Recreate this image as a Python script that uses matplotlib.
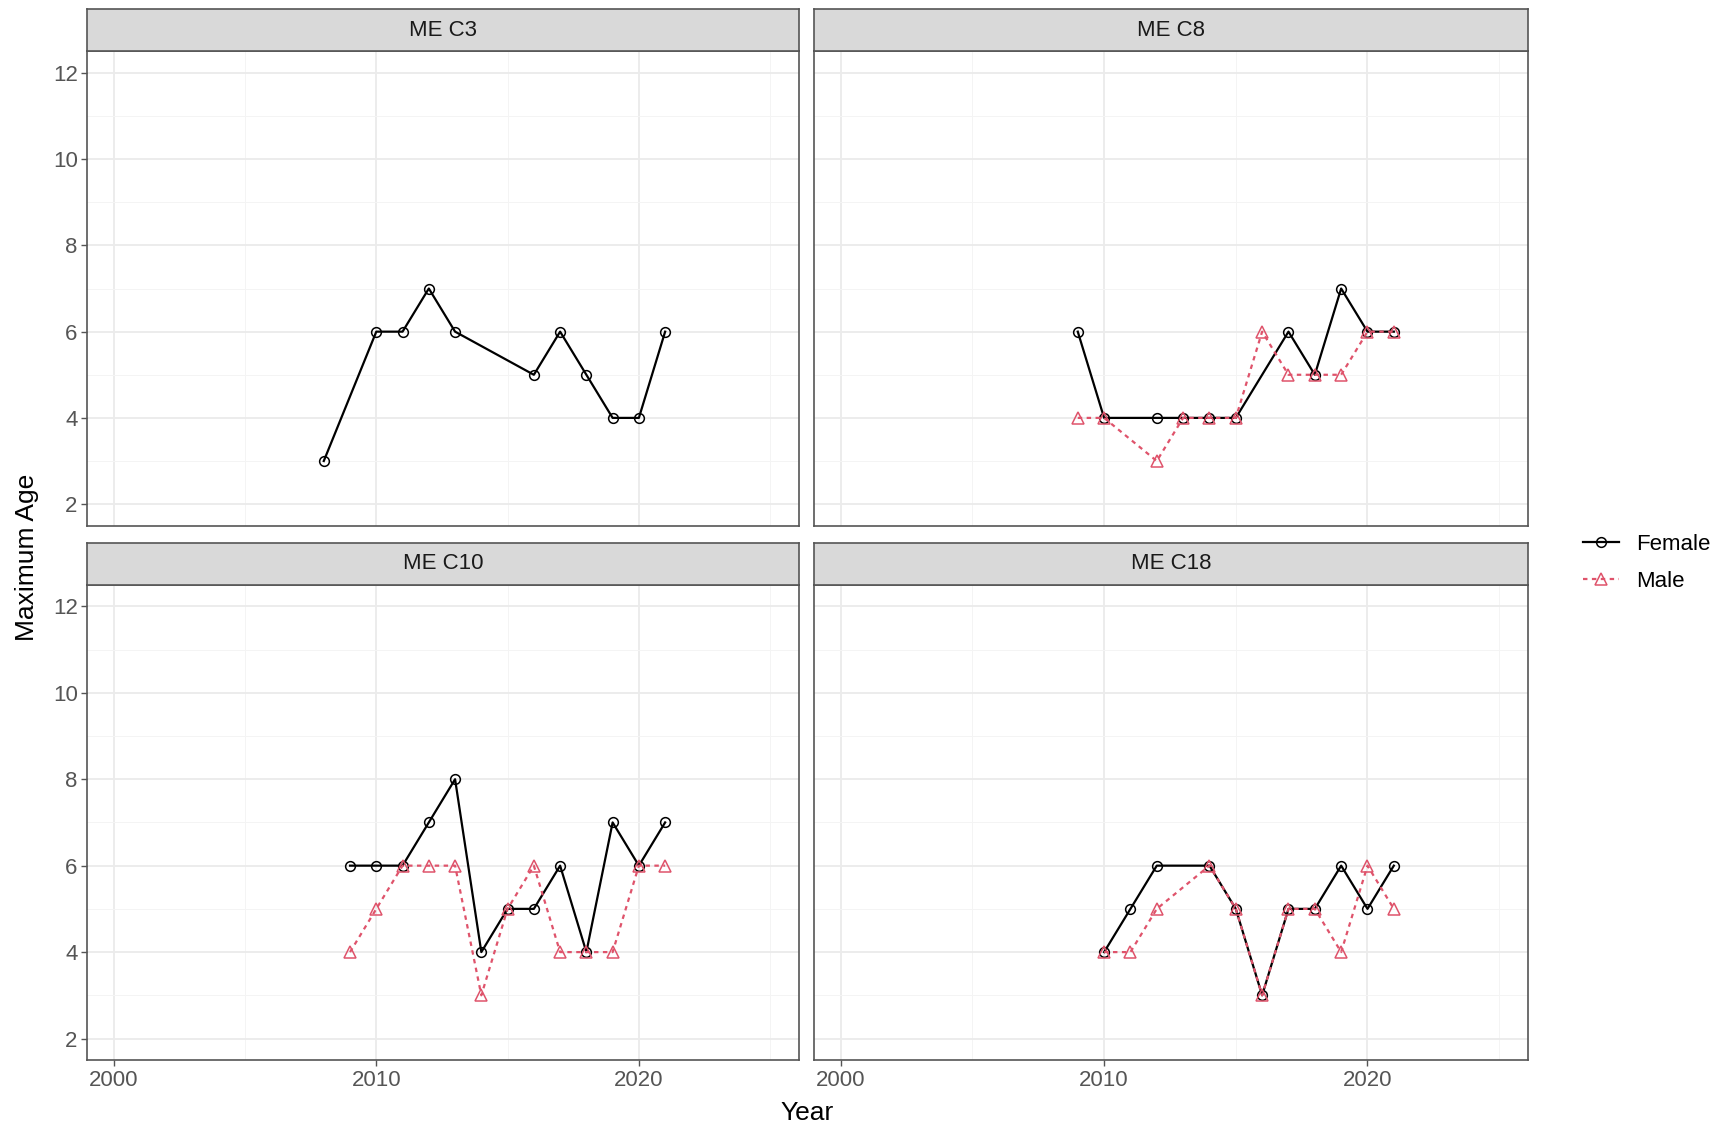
import numpy as np
import matplotlib
matplotlib.use("Agg")
import matplotlib.pyplot as plt
from matplotlib.lines import Line2D

plt.rcParams['font.family'] = ['Liberation Sans', 'DejaVu Sans']

# data
panels = ["ME C3", "ME C8", "ME C10", "ME C18"]

c3_f_years = [2008, 2010, 2011, 2012, 2013, 2016, 2017, 2018, 2019, 2020, 2021]
c3_f_age = [3, 6, 6, 7, 6, 5, 6, 5, 4, 4, 6]

c8_f_years = [2009, 2010, 2012, 2013, 2014, 2015, 2017, 2018, 2019, 2020, 2021]
c8_f_age = [6, 4, 4, 4, 4, 4, 6, 5, 7, 6, 6]
c8_m_years = [2009, 2010, 2012, 2013, 2014, 2015, 2016, 2017, 2018, 2019, 2020, 2021]
c8_m_age = [4, 4, 3, 4, 4, 4, 6, 5, 5, 5, 6, 6]

c10_f_years = [2009, 2010, 2011, 2012, 2013, 2014, 2015, 2016, 2017, 2018, 2019, 2020, 2021]
c10_f_age = [6, 6, 6, 7, 8, 4, 5, 5, 6, 4, 7, 6, 7]
c10_m_years = [2009, 2010, 2011, 2012, 2013, 2014, 2015, 2016, 2017, 2018, 2019, 2020, 2021]
c10_m_age = [4, 5, 6, 6, 6, 3, 5, 6, 4, 4, 4, 6, 6]

c18_f_years = [2010, 2011, 2012, 2014, 2015, 2016, 2017, 2018, 2019, 2020, 2021]
c18_f_age = [4, 5, 6, 6, 5, 3, 5, 5, 6, 5, 6]
c18_m_years = [2010, 2011, 2012, 2014, 2015, 2016, 2017, 2018, 2019, 2020, 2021]
c18_m_age = [4, 4, 5, 6, 5, 3, 5, 5, 4, 6, 5]

female = [(c3_f_years, c3_f_age), (c8_f_years, c8_f_age),
          (c10_f_years, c10_f_age), (c18_f_years, c18_f_age)]
male = [None, (c8_m_years, c8_m_age),
        (c10_m_years, c10_m_age), (c18_m_years, c18_m_age)]

x_ticks = [2000, 2010, 2020]
y_ticks = [2, 4, 6, 8, 10, 12]

F_COL = "black"
M_COL = "#DF536B"

W, H = 1568.0, 1033.0  # layout measured on the shrunk picture
fig = plt.figure(figsize=(17.14, 11.29), dpi=100)

cols = [(80, 731), (745, 1398)]
rows = [(8, 47, 481), (497, 535, 970)]  # strip top, panel top, panel bottom

for i, name in enumerate(panels):
    r, c = divmod(i, 2)
    x0, x1 = cols[c]
    st, pt, pb = rows[r]
    ax = fig.add_axes([x0 / W, 1 - pb / H, (x1 - x0) / W, (pb - pt) / H])
    ax.set_xlim(1999.0, 2026.1)
    ax.set_ylim(1.5, 12.5)
    ax.set_xticks(x_ticks)
    ax.set_yticks(y_ticks)
    ax.set_xticks([2005, 2015, 2025], minor=True)
    ax.set_yticks([3, 5, 7, 9, 11], minor=True)
    ax.grid(which="major", color="#EBEBEB", lw=1.3)
    ax.grid(which="minor", color="#F4F4F4", lw=0.7)
    ax.set_axisbelow(True)
    for sp in ax.spines.values():
        sp.set_color("#555555")
        sp.set_linewidth(1.2)
    ax.tick_params(which="major", length=4, width=1, color="#555555",
                   labelsize=16, labelcolor="#555555", pad=3)
    ax.tick_params(which="minor", length=0)
    if c == 1:
        ax.tick_params(axis="y", labelleft=False, length=0)
    if r == 0:
        ax.tick_params(axis="x", labelbottom=False, length=0)

    fx, fy = female[i]
    ax.plot(fx, fy, color=F_COL, lw=1.6, marker="o", ms=7, mfc="none",
            mec=F_COL, mew=1.1, zorder=3)
    if male[i] is not None:
        mx, my = male[i]
        ax.plot(mx, my, color=M_COL, lw=1.6, ls=(0, (2, 2)), marker="^", ms=8,
                mfc="none", mec=M_COL, mew=1.1, zorder=4)

    sax = fig.add_axes([x0 / W, 1 - pt / H, (x1 - x0) / W, (pt - st) / H])
    sax.set_xticks([])
    sax.set_yticks([])
    sax.set_facecolor("#D9D9D9")
    for sp in sax.spines.values():
        sp.set_color("#555555")
        sp.set_linewidth(1.2)
    sax.text(0.5, 0.5, name, ha="center", va="center", fontsize=16,
             color="#1A1A1A", transform=sax.transAxes)

fig.text(738 / W, 1 - 1018 / H, "Year", ha="center", va="center", fontsize=19)
fig.text(25 / W, 1 - 510 / H, "Maximum Age", ha="center", va="center",
         rotation=90, fontsize=19)

handles = [Line2D([], [], color=F_COL, lw=1.6, marker="o", ms=7, mfc="none", mew=1.1),
           Line2D([], [], color=M_COL, lw=1.6, ls=(0, (2, 2)), marker="^", ms=8,
                  mfc="none", mew=1.1)]
fig.legend(handles, ["Female", "Male"], loc="center left",
           bbox_to_anchor=(1430 / W, 1 - 515 / H), frameon=False, fontsize=16,
           handlelength=1.6, labelspacing=0.7, handletextpad=0.8)

fig.savefig("out.png", dpi=100, facecolor="white")
